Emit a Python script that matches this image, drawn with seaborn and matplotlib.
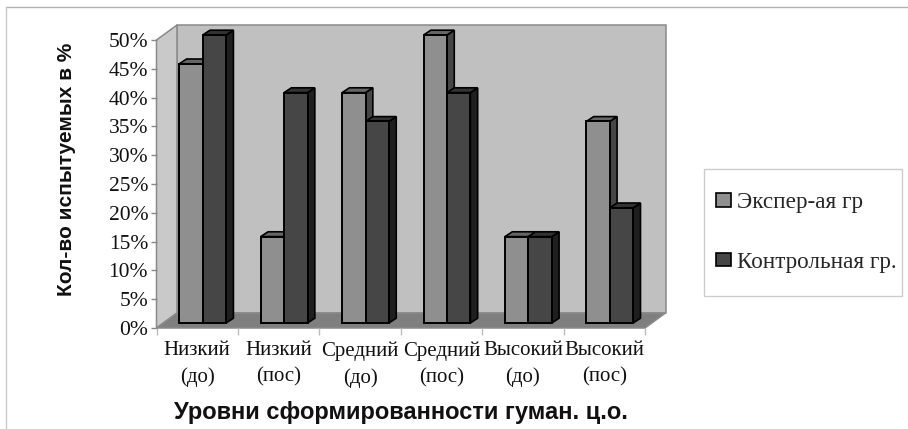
import matplotlib
matplotlib.use("Agg")
import matplotlib.pyplot as plt
import seaborn as sns
import pandas as pd
from matplotlib.lines import Line2D
from matplotlib.patches import Polygon, Patch, Rectangle
from matplotlib.transforms import Affine2D

categories = ["Низкий\n(до)", "Низкий\n(пос)", "Средний\n(до)",
              "Средний\n(пос)", "Высокий\n(до)", "Высокий\n(пос)"]
series_names = ["Экспер-ая гр", "Контрольная гр."]
exper_values = [45, 15, 40, 50, 15, 35]
control_values = [50, 40, 35, 40, 15, 20]
y_ticks = [0, 5, 10, 15, 20, 25, 30, 35, 40, 45, 50]
x_title = "Уровни сформированности гуман. ц.о."
y_title = "Кол-во испытуемых в %"

front_colors = ["#8f8f8f", "#464646"]
side_colors = ["#454545", "#1f1f1f"]
top_colors = ["#666666", "#333333"]

W, H = 908, 429
sns.set_style("white")
plt.rcParams["font.family"] = ["Liberation Serif", "DejaVu Serif"]
fig = plt.figure(figsize=(W / 100, H / 100), dpi=100, facecolor="white")
ax = fig.add_axes([156.5 / W, 1 - 328 / H, (645 - 156.5) / W, (328 - 40) / H])

df = pd.DataFrame({
    "cat": categories * 2,
    "group": [series_names[0]] * 6 + [series_names[1]] * 6,
    "val": exper_values + control_values,
})
sns.barplot(data=df, x="cat", y="val", hue="group", order=categories,
            hue_order=series_names, palette=front_colors, width=0.575,
            dodge=True, gap=0, saturation=1, legend=False, ax=ax,
            edgecolor="black", linewidth=1.4)
ax.set_xlim(-0.5, 5.5)
ax.set_ylim(0, 50)
fig.canvas.draw()
containers = [list(c) for c in ax.containers]


def shifted(dx, dy):
    return ax.transData + Affine2D().translate(dx, dy)


# walls and floor, projected from the axes limits
wall_dx, wall_dy = 20.5, 15
xa, xb, ya, yb = -0.5, 5.5, 0, 50
dx_data = wall_dx * (xb - xa) / ax.bbox.width
dy_data = wall_dy * (yb - ya) / ax.bbox.height
walls = [
    ([(xa + dx_data, ya + dy_data), (xb + dx_data, ya + dy_data),
      (xb + dx_data, yb + dy_data), (xa + dx_data, yb + dy_data)], "#c0c0c0"),
    ([(xa, ya), (xa + dx_data, ya + dy_data), (xa + dx_data, yb + dy_data),
      (xa, yb)], "#c9c9c9"),
    ([(xa, ya), (xb, ya), (xb + dx_data, ya + dy_data),
      (xa + dx_data, ya + dy_data)], "#7f7f7f"),
]
for pts, col in walls:
    ax.add_patch(Polygon(pts, closed=True, facecolor=col, edgecolor="#8a8a8a",
                         lw=1.1, clip_on=False, zorder=0.5))

# bars with projected side and top faces
offs = (5.5, 5)
depth_x = 7.3 * (xb - xa) / ax.bbox.width
depth_y = 4.8 * (yb - ya) / ax.bbox.height
n = len(categories)
for hue_idx, group in enumerate(containers):
    for cat_idx, bar in enumerate(group):
        x0, w, h = bar.get_x(), bar.get_width(), bar.get_height()
        z = 2 + cat_idx * 2 + hue_idx * 0.5
        tr = shifted(*offs)
        x1 = x0 + w
        side = Polygon([(x1, 0), (x1 + depth_x, depth_y), (x1 + depth_x, h + depth_y), (x1, h)],
                       closed=True, facecolor=side_colors[hue_idx], edgecolor="black",
                       lw=1.2, transform=tr, clip_on=False, zorder=z)
        top = Polygon([(x0, h), (x1, h), (x1 + depth_x, h + depth_y), (x0 + depth_x, h + depth_y)],
                      closed=True, facecolor=top_colors[hue_idx], edgecolor="black",
                      lw=1.2, transform=tr, clip_on=False, zorder=z)
        ax.add_patch(side)
        ax.add_patch(top)
        bar.set_transform(tr)
        bar.set_clip_on(False)
        bar.set_zorder(z + 0.1)

for s in ax.spines.values():
    s.set_visible(False)
ax.patch.set_visible(False)
ax.grid(False)

ax.set_yticks(y_ticks)
ax.set_yticklabels([f"{v}%" for v in y_ticks], fontsize=15.5, color="#111111")
ax.tick_params(axis="y", left=True, length=4, width=1, color="#888888", pad=2)
ax.set_xticks(range(n))
ax.set_xticklabels(categories, fontsize=15, color="#111111", linespacing=1.5)
ax.set_xticks([v - 0.5 for v in range(n + 1)], minor=True)
ax.tick_params(axis="x", which="major", bottom=False, length=0, pad=9.5)
ax.tick_params(axis="x", which="minor", bottom=True, length=5, width=1, color="#bbbbbb")
ax.set_xlabel("")
ax.set_ylabel("")

fig.text(400.5 / W, 1 - 412 / H, x_title, family=["Liberation Sans", "DejaVu Sans"],
         fontweight="bold", fontsize=17, ha="center", va="center", color="#111111")
fig.text(66 / W, 1 - 169 / H, y_title, family=["Liberation Sans", "DejaVu Sans"],
         fontweight="bold", fontsize=15, ha="center", va="center", rotation=90, color="#111111")

fig.add_artist(Rectangle((704 / W, 1 - 296 / H), 198 / W, 127 / H, transform=fig.transFigure,
                         facecolor="white", edgecolor="#cccccc", lw=1))
handles = [Patch(facecolor=front_colors[i], edgecolor="black", lw=1.2) for i in range(2)]
leg = fig.legend(handles, series_names, loc="center left", bbox_to_anchor=(716 / W, 1 - 232.5 / H),
                 bbox_transform=fig.transFigure, fontsize=16.7, frameon=False,
                 labelspacing=1.65, handlelength=0.65, handleheight=0.53,
                 handletextpad=0.26, borderpad=0, borderaxespad=0)
leg.set_zorder(5)

fig.add_artist(Line2D([6 / W, 1], [1 - 7 / H, 1 - 7 / H], color="#b0b0b0", lw=1))
fig.add_artist(Line2D([6 / W, 6 / W], [0, 1 - 7 / H], color="#c8c8c8", lw=1))

fig.savefig("out.png", dpi=100, facecolor="white")
